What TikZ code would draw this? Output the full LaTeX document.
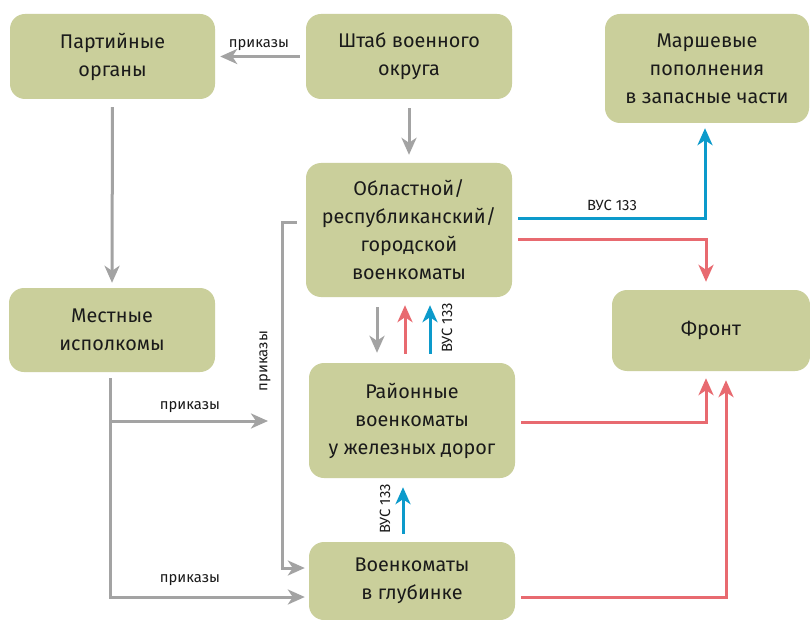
\documentclass[tikz,border=0pt]{standalone}
\usepackage{fontspec}
\setmainfont{Fira Sans}
\usetikzlibrary{arrows.meta,backgrounds}
\definecolor{boxfill}{HTML}{CACF9B}
\definecolor{txtcol}{HTML}{1A1A1A}
\definecolor{gline}{HTML}{A3A3A3}
\definecolor{rline}{HTML}{E86A70}
\definecolor{bline}{HTML}{0C9ACB}
\tikzset{
  box/.style={rectangle, rounded corners=15pt, fill=boxfill, align=center,
    font=\fontsize{19.8}{28}\selectfont, text=txtcol, inner sep=0pt},
  lbl/.style={font=\fontsize{14.8}{16}\selectfont, text=txtcol, inner sep=0pt},
  conn/.style={line width=3pt, -{Stealth[length=17pt,width=15pt,inset=5pt]}},
  gconn/.style={conn, draw=gline, color=gline},
  rconn/.style={conn, draw=rline, color=rline},
  bconn/.style={conn, draw=bline, color=bline},
}
\begin{document}
\begin{tikzpicture}[x=1pt,y=-1pt]
\path[use as bounding box, fill=white] (0,0) rectangle (810,620);

% boxes
\node[box, minimum width=205pt, minimum height=85pt] (A) at (112.5,56.5) {Партийные\\органы};
\node[box, minimum width=206pt, minimum height=85pt] (B) at (409,56.5) {Штаб военного\\округа};
\node[box, minimum width=204pt, minimum height=109pt] (C) at (707,68.5) {Маршевые\\пополнения\\в запасные части};
\node[box, minimum width=206pt, minimum height=134pt] (D) at (409,230) {Областной/\\республиканский/\\городской\\военкоматы};
\node[box, minimum width=206pt, minimum height=84pt] (E) at (112,330) {Местные\\исполкомы};
\node[box, minimum width=198pt, minimum height=81pt] (F) at (711,330.5) {Фронт};
\node[box, minimum width=206pt, minimum height=115pt] (G) at (412,420.5) {Районные\\военкоматы\\у железных дорог};
\node[box, minimum width=206pt, minimum height=78pt] (H) at (412,581) {Военкоматы\\в глубинке};
\begin{scope}[on background layer]
\clip (0,0) rectangle (810,620);
\fill[boxfill] ([yshift=20pt]H.south west) rectangle ([yshift=-10pt]H.south east);
\end{scope}

% gray connectors
\draw[gconn, shorten <=6pt, shorten >=5pt] (B.west) -- (A.east);
\node[lbl] (l1) at (259,45) {приказы};
\draw[gconn, shorten <=8pt, shorten >=5pt] (A.south) -- (E.north);
\draw[gconn, shorten <=9pt, shorten >=8pt] (B.south) -- (D.north);
\draw[gconn, shorten <=10pt, shorten >=10pt] ([xshift=-32pt]D.south) -- ([xshift=-32pt]D.south |- G.north);

\coordinate (eb) at ([xshift=-2pt,yshift=-6pt]E.south);
\coordinate (c1) at (268,421);
\draw[gconn] (eb |- c1) -- (c1);
\draw[gconn, shorten >=4pt] (eb) |- ([yshift=-16pt]H.west);
\node[lbl] (l2) at (190,407) {приказы};
\node[lbl] (l3) at (190,580) {приказы};

\coordinate (bk) at (282,223);
\draw[gconn, shorten >=4pt] ([xshift=-9pt,yshift=7pt]D.west) -- (bk) |- ([yshift=13pt]H.west);
\node[lbl, rotate=90] (l4) at (265,361) {приказы};

% red / blue between D and G
\draw[rconn, shorten <=9pt, shorten >=8pt] ([xshift=-7pt]G.north) -- ([xshift=-7pt]G.north |- D.south);
\draw[bconn, shorten <=9pt, shorten >=8pt] ([xshift=18pt]G.north) -- ([xshift=18pt]G.north |- D.south);
\node[lbl, rotate=90] (l5) at (447,328) {ВУС 133};

% blue between H and G
\draw[bconn, shorten <=8pt, shorten >=9pt] ([xshift=-9pt]H.north) -- ([xshift=-9pt]H.north |- G.south);
\node[lbl, rotate=90] (l6) at (385,509) {ВУС 133};

% right side connectors
\draw[bconn, shorten <=6pt, shorten >=5pt] ([yshift=11pt]D.east) -| ([xshift=-2pt]C.south);
\node[lbl] (l7) at (612,205) {ВУС 133};
\draw[rconn, shorten <=6pt, shorten >=8pt] ([yshift=-9pt]D.east) -| ([xshift=-5pt]F.north);
\draw[rconn, shorten <=6pt, shorten >=7pt] ([yshift=-1.5pt]G.east) -| ([xshift=-5pt]F.south);
\draw[rconn, shorten <=6pt, shorten >=9pt] ([yshift=-16pt]H.east) -| ([xshift=15pt]F.south);
\end{tikzpicture}
\end{document}
